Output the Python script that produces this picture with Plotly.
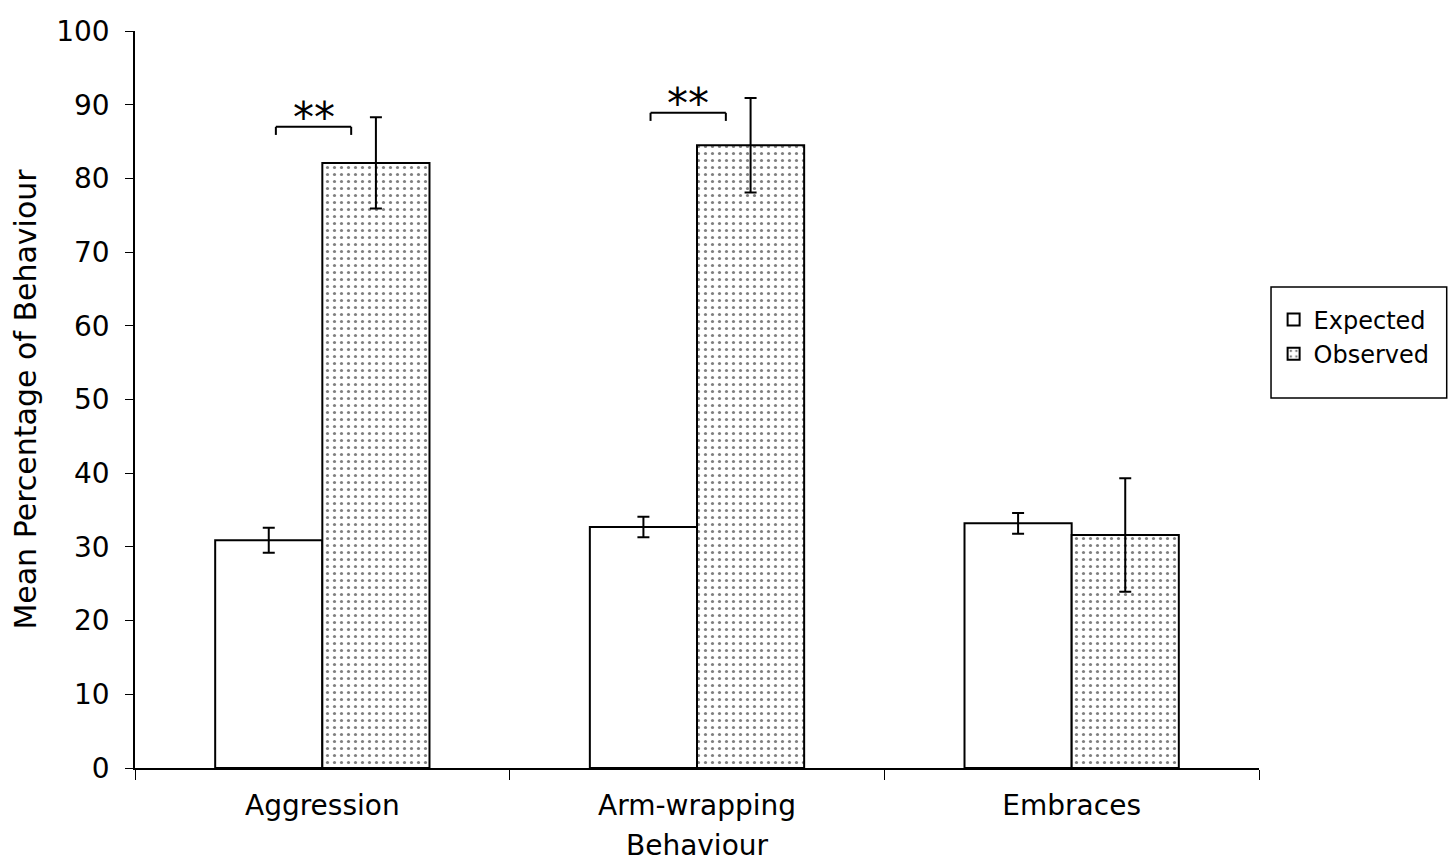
import plotly.graph_objects as go

categories = ["Aggression", "Arm-wrapping", "Embraces"]
expected = [30.9, 32.7, 33.2]
expected_err = [1.7, 1.4, 1.4]
observed = [82.1, 84.5, 31.6]
observed_err = [6.2, 6.4, 7.7]

# significance brackets (category index, bracket level in % units)
sig_idx = [0, 1]
sig_level = [87.0, 88.9]
sig_text = ["**", "**"]

FONT = "Verdana, DejaVu Sans, sans-serif"

fig = go.Figure()
fig.add_trace(go.Bar(
    name="Expected", x=categories, y=expected,
    marker=dict(color="white", line=dict(color="black", width=2)),
    error_y=dict(type="data", array=expected_err, color="black", thickness=2, width=6),
))
fig.add_trace(go.Bar(
    name="Observed", x=categories, y=observed,
    marker=dict(color="white", line=dict(color="black", width=2),
                pattern=dict(shape=".", fgcolor="black", bgcolor="white", size=7, solidity=0.16)),
    error_y=dict(type="data", array=observed_err, color="black", thickness=2, width=6),
))

for i, lvl, t in zip(sig_idx, sig_level, sig_text):
    x0, x1 = i - 0.124, i + 0.077
    fig.add_shape(type="line", xref="x", yref="y", x0=x0, x1=x1, y0=lvl, y1=lvl,
                  line=dict(color="black", width=2))
    fig.add_shape(type="line", xref="x", yref="y", x0=x0, x1=x0, y0=lvl, y1=lvl - 1.1,
                  line=dict(color="black", width=2))
    fig.add_shape(type="line", xref="x", yref="y", x0=x1, x1=x1, y0=lvl, y1=lvl - 1.1,
                  line=dict(color="black", width=2))
    fig.add_annotation(x=(x0 + x1) / 2, y=lvl, xref="x", yref="y", text=t, showarrow=False,
                       yanchor="bottom", yshift=-17, font=dict(size=42, color="black", family=FONT))

# legend frame
fig.add_shape(type="rect", xref="paper", yref="paper", x0=1.0107, x1=1.167, y0=0.502, y1=0.6526,
              line=dict(color="black", width=1.5), fillcolor="rgba(0,0,0,0)", layer="above")

fig.update_layout(
    width=1451, height=862,
    paper_bgcolor="white", plot_bgcolor="white",
    margin=dict(l=135, r=192, t=31, b=94, autoexpand=False),
    barmode="group", bargap=0.428, bargroupgap=0,
    font=dict(family=FONT, color="black", size=26),
    showlegend=True,
    legend=dict(x=1.013, y=0.585, xanchor="left", yanchor="middle",
                borderwidth=0, bgcolor="rgba(0,0,0,0)",
                font=dict(size=24, family=FONT, color="black")),
    xaxis=dict(
        showline=True, linecolor="black", linewidth=1.5, automargin=False,
        ticks="outside", tickson="boundaries", ticklen=10, tickcolor="black",
        tickfont=dict(size=28), showgrid=False, ticklabelstandoff=12,
        title=dict(text="Behaviour", font=dict(size=28), standoff=23),
    ),
    yaxis=dict(
        range=[0, 100], dtick=10, showline=True, linecolor="black", linewidth=1.5,
        automargin=False,
        ticks="outside", ticklen=8, tickcolor="black", showgrid=False, zeroline=False,
        tickfont=dict(size=28), ticklabelstandoff=10,
        title=dict(text="Mean Percentage of Behaviour", font=dict(size=30), standoff=11),
    ),
)

fig.write_html("out.html")
